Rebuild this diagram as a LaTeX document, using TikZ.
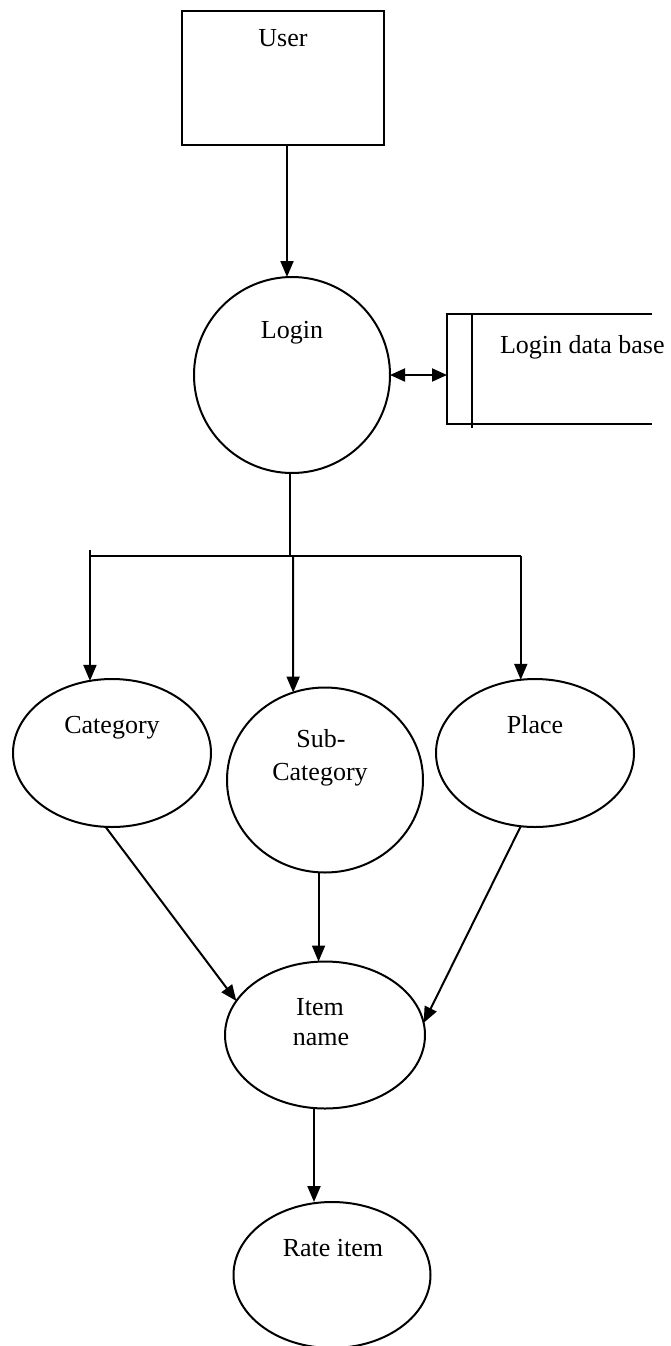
\documentclass[tikz,border=0pt]{standalone}
\usepackage{fontspec}
\setmainfont{Liberation Serif}
\usetikzlibrary{shapes.geometric,arrows.meta}
\begin{document}
\begin{tikzpicture}[x=1pt,y=-1pt,
  every node/.style={inner sep=0pt,outer sep=0pt},
  shp/.style={draw,line width=2pt},
  ell/.style={shp,ellipse},
  lbl/.style={anchor=base,font=\fontsize{26}{31}\selectfont},
  conn/.style={line width=2pt},
  arr/.style={conn,-{Triangle[length=16pt,width=13pt]}},
  darr/.style={conn,{Triangle[length=15pt,width=13pt]}-{Triangle[length=15pt,width=13pt]}}]
\useasboundingbox (0,0) rectangle (670,1346);
% nodes
\node[shp,rectangle,minimum width=202pt,minimum height=134pt] (user) at (283,78) {};
\node[lbl] (userT) at (283,47) {User};
\node[shp,circle,minimum size=196pt] (login) at (292,375) {};
\node[lbl] (loginT) at (292,338) {Login};
\node[minimum width=205pt,minimum height=110pt] (db) at (549.5,369) {};
\node[lbl,anchor=base west] (dbT) at (500,353) {Login data base};
\node[ell,minimum width=198pt,minimum height=148pt] (cat) at (112,753) {};
\node[lbl] (catT) at (112,733) {Category};
\node[ell,minimum width=196pt,minimum height=185pt] (sub) at (325,780) {};
\node[lbl] (subT1) at (321,747) {Sub-};
\node[lbl] (subT2) at (320,780) {Category};
\node[ell,minimum width=198pt,minimum height=148pt] (place) at (535,753) {};
\node[lbl] (placeT) at (535,733) {Place};
\node[ell,minimum width=200pt,minimum height=147pt] (item) at (325,1035) {};
\node[lbl] (itemT1) at (320,1015) {Item};
\node[lbl] (itemT2) at (321,1045) {name};
\node[ell,minimum width=197pt,minimum height=146pt] (rate) at (332,1275) {};
\node[lbl] (rateT) at (333,1256) {Rate item};
% data store lines
\draw[conn] (db.north east) -- (db.north west) -- (db.south west) -- (db.south east);
\draw[conn] ([xshift=25pt]db.north west) -- ([xshift=25pt,yshift=-4pt]db.south west);
% connectors
\draw[arr] ([xshift=4pt]user.south) -- ([xshift=-5pt]login.north);
\draw[darr] (login.east) -- (login.east -| db.west);
\coordinate (bM) at (290,556);
\coordinate (bL) at (cat.107 |- bM);
\coordinate (bR) at (place.101 |- bM);
\draw[conn] (login.south -| bM) -- (bM);
\draw[conn] (bL) -- (bR);
\draw[arr] ([yshift=6pt]bL) -- (cat.107);
\draw[arr] ([xshift=3pt]bM) -- (sub.110);
\draw[arr] (bR) -- (place.101);
\draw[arr] (cat.-95) -- (item.159);
\draw[arr] (sub.-94) -- (sub.-94 |- item.north);
\draw[arr] (place.259) -- (item.7);
\draw[arr] ([xshift=-11pt]item.south) -- ([xshift=-18pt]rate.north);
\end{tikzpicture}
\end{document}
